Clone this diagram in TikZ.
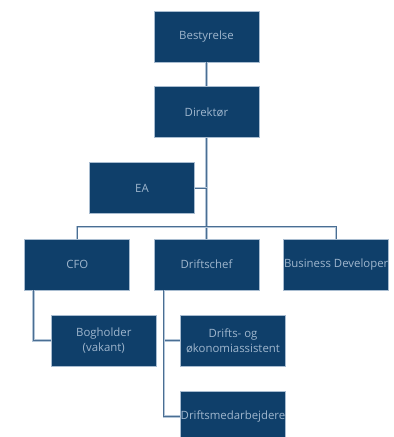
\documentclass[tikz,border=0pt]{standalone}
\usepackage{fontspec}
\setmainfont{Open Sans}
\definecolor{boxfill}{HTML}{0F3F6A}
\definecolor{boxline}{HTML}{A8BCD0}
\definecolor{boxtext}{HTML}{9FB6CD}
\definecolor{conn}{HTML}{4A6E93}
\definecolor{connedge}{HTML}{B4C6D8}
\begin{document}
\begin{tikzpicture}[x=1pt,y=-1pt,
  orgbox/.style={rectangle, fill=boxfill, draw=boxline, line width=0.8pt,
    minimum width=105pt, minimum height=51pt, inner sep=0pt,
    text=boxtext, align=center, font=\fontsize{11.4}{15}\selectfont},
  link/.style={draw=connedge, line width=2.2pt, postaction={draw=conn, line width=1.1pt}}]
\useasboundingbox (0,0) rectangle (394,437);
\clip (0,0) rectangle (394,437);
\fill[white] (0,0) rectangle (394,437);
\node[orgbox] (best) at (206.5,36.5) {Bestyrelse};
\node[orgbox] (dir) at (206.5,112.2) {Direktør};
\node[orgbox] (ea) at (142,188.3) {EA};
\node[orgbox] (cfo) at (77.3,264.5) {CFO};
\node[orgbox] (drift) at (206.5,264.5) {Driftschef};
\node[orgbox] (bd) at (336.2,264.5) {Business Developer};
\node[orgbox] (bog) at (103.8,340.5) {Bogholder\\(vakant)};
\node[orgbox] (oko) at (233,340.5) {Drifts- og\\økonomiassistent};
\node[orgbox] (med) at (233,416.5) {Driftsmedarbejdere};
\coordinate (bus) at (206.5,226.7);
\coordinate (eaj) at (206.5,188.3);
\coordinate (cfoj) at ([xshift=9pt]cfo.south west);
\coordinate (drj) at ([xshift=10pt]drift.south west);
\path[link] (best.south) -- (dir.north);
\path[link] (dir.south) -- (drift.north);
\path[link] (ea.east) -- (eaj);
\path[link] (cfo.north) |- (bus) -| (bd.north);
\path[link] (cfoj) |- (bog.west);
\path[link] (drj) |- (oko.west);
\path[link] (drj) |- (med.west);
\end{tikzpicture}
\end{document}
